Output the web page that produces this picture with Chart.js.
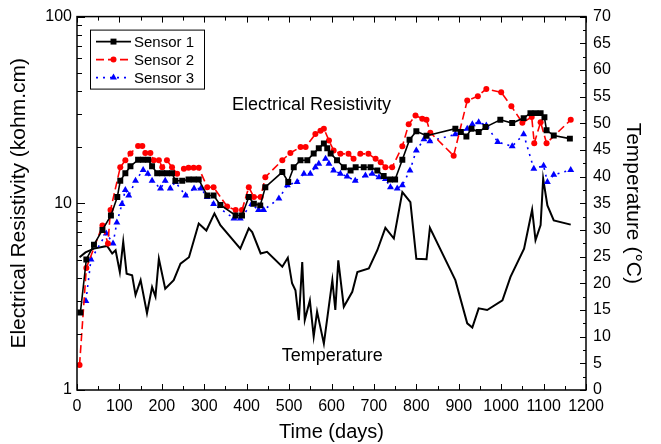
<!DOCTYPE html>
<html>
<head>
<meta charset="utf-8">
<script src="https://cdn.jsdelivr.net/npm/chart.js@4.4.1/dist/chart.umd.min.js"></script>
<style>
  html, body { margin: 0; padding: 0; background: #fff; }
</style>
</head>
<body>
<canvas id="grafico" width="661" height="444"></canvas>
<script>
// Sensor 1 (black squares)
const s1Dias = [8,22,40,60,80,95,102,114,126,144,156,168,177,189,201,212,224,232,248,263,275,287,307,322,338,374,389,405,417,432,444,484,498,511,527,543,558,570,582,590,598,613,629,645,657,676,692,708,723,738,750,767,784,800,824,892,905,918,930,947,963,998,1026,1053,1069,1081,1093,1102,1107,1124,1162];
const s1Valores = [2.6,5.0,6.0,7.2,8.6,10.8,13.2,14.5,15.8,17.1,17.1,17.1,15.8,14.5,14.5,14.5,14.5,13.2,13.2,13.4,13.4,13.4,11.0,11.0,9.8,8.6,8.6,10.8,9.95,9.75,12.2,14.7,13.0,15.6,17.0,17.0,18.5,19.7,20.9,19.7,18.5,17.0,15.6,15.0,15.6,15.6,15.6,15.0,14.0,13.4,13.4,17.1,21.9,24.3,23.0,25.1,24.1,22.8,25.1,24.1,25.6,28.0,26.9,28.6,30.4,30.4,30.4,28.9,24.6,23.1,22.2];

// Sensor 2 (red circles)
const s2Dias = [6,22,60,73,79,102,114,126,144,154,161,173,181,193,201,212,224,236,252,263,275,287,307,322,354,374,389,405,417,433,444,484,503,527,539,562,574,582,594,605,621,640,652,668,687,704,716,727,743,767,782,798,814,824,833,888,920,945,965,1000,1024,1050,1072,1078,1093,1107,1164];
const s2Valores = [1.36,4.5,7.6,6.1,9.2,15.6,17.0,18.5,20.3,20.3,18.6,18.6,17.0,17.0,15.6,17.0,15.6,14.4,15.3,15.5,15.5,15.5,12.2,12.2,9.6,9.2,9.2,12.2,10.8,10.8,13.8,17.0,18.6,20.0,20.0,23.5,24.5,25.1,21.7,19.2,18.4,18.4,17.3,18.4,18.4,17.3,16.6,15.6,15.6,20.2,26.5,29.5,28.4,28.0,23.9,18.0,35.5,37.5,41.0,39.3,33.1,27.0,29.0,21.0,27.2,21.0,28.0];

// Sensor 3 (blue triangles)
const s3Dias = [21,33,69,85,94,106,114,122,138,156,167,177,197,208,220,232,256,276,292,307,322,370,385,412,428,440,476,496,519,535,550,562,570,586,594,605,621,637,656,680,696,712,727,739,755,767,785,800,818,832,892,920,932,947,965,992,1026,1053,1077,1100,1109,1124,1164];
const s3Valores = [3.0,5.0,6.9,6.1,7.9,9.9,11.8,11.0,13.2,15.1,14.4,13.2,12.0,13.2,12.0,13.0,11.0,12.0,12.0,10.8,9.9,8.3,8.3,9.9,9.2,9.2,10.6,12.5,13.0,14.4,14.4,15.6,16.3,17.3,16.3,15.0,14.4,13.9,13.2,14.1,14.4,13.8,13.5,12.2,12.0,12.5,15.0,19.2,22.0,21.5,23.4,25.1,26.5,27.2,26.1,21.3,20.2,23.4,15.3,15.9,13.0,14.2,15.1];

// Temperature, right axis (°C)
const tDias = [6,20,40,71,83,91,101,109,117,130,138,150,165,177,185,193,208,228,244,264,287,305,324,338,385,405,413,433,448,484,497,507,515,523,531,537,549,558,566,582,602,609,616,629,649,661,688,708,727,747,767,786,800,824,832,892,920,932,947,967,1003,1022,1054,1073,1081,1093,1099,1109,1124,1164];
const tValores = [24.9,25.8,26.5,27.0,25.6,26.2,22.1,27.8,21.8,21.5,17.8,20.6,14.4,19.3,17.5,24.6,19.0,20.6,23.7,24.9,31.2,29.9,33.1,30.9,26.5,30.3,29.6,25.6,25.9,23.1,24.8,20.0,18.7,13.1,24.0,13.1,16.8,10.0,14.7,8.7,20.6,15.0,24.3,15.6,18.4,22.1,22.8,26.2,30.4,28.4,37.1,35.2,24.6,24.5,30.4,20.6,12.5,11.7,15.3,15.0,16.8,21.2,26.5,33.8,28.1,30.9,39.6,34.6,31.8,31.0];

const ticksResistividad = [1, 10, 100];
const nombresSensores = ['Sensor 1', 'Sensor 2', 'Sensor 3'];

const fuente = 'Liberation Sans, Arial, sans-serif';

function puntos(dias, valores) {
    return dias.map((d, i) => ({ x: d, y: valores[i] }));
}

const estilos = [
    { color: '#000000', dash: [], pointStyle: 'rect', radius: 4.2, width: 1.6 },
    { color: '#ff0000', dash: [8, 4], pointStyle: 'circle', radius: 3, width: 1.6 },
    { color: '#0000ff', dash: [2, 5], pointStyle: 'triangle', radius: 4, width: 1.6 }
];

function dibujarMarcador(ctx, estilo, x, y) {
    ctx.fillStyle = estilo.color;
    ctx.beginPath();
    if (estilo.pointStyle === 'rect') {
        const s = estilo.radius * Math.SQRT1_2;
        ctx.rect(x - s, y - s, 2 * s, 2 * s);
    } else if (estilo.pointStyle === 'circle') {
        ctx.arc(x, y, estilo.radius, 0, Math.PI * 2);
    } else {
        const r = estilo.radius;
        ctx.moveTo(x, y - r);
        ctx.lineTo(x + r * 0.866, y + r * 0.5);
        ctx.lineTo(x - r * 0.866, y + r * 0.5);
        ctx.closePath();
    }
    ctx.fill();
}

// frame, inward ticks, legend box and the two labels inside the plot
const marco = {
    id: 'marco',
    afterDraw(chart) {
        const ctx = chart.ctx;
        const a = chart.chartArea;
        const x = chart.scales.x, y = chart.scales.y, y2 = chart.scales.y2;
        ctx.save();
        ctx.strokeStyle = '#000';
        ctx.lineWidth = 1.5;
        ctx.setLineDash([]);
        ctx.strokeRect(a.left, a.top, a.right - a.left, a.bottom - a.top);

        ctx.lineWidth = 1;
        ctx.beginPath();
        for (let d = 0; d <= 1200; d += 50) {
            const px = Math.round(x.getPixelForValue(d)) + 0.5;
            const len = d % 100 === 0 ? 6 : 4;
            ctx.moveTo(px, a.bottom); ctx.lineTo(px, a.bottom - len);
            ctx.moveTo(px, a.top); ctx.lineTo(px, a.top + len);
        }
        for (let dec = 1; dec < 100; dec *= 10) {
            for (let k = 1; k <= 10; k++) {
                const py = Math.round(y.getPixelForValue(dec * k)) + 0.5;
                const len = (k === 1 || k === 10) ? 8 : 5;
                ctx.moveTo(a.left, py); ctx.lineTo(a.left + len, py);
            }
        }
        for (let t = 0; t <= 70; t += 2.5) {
            const py = Math.round(y2.getPixelForValue(t)) + 0.5;
            const len = t % 5 === 0 ? 6 : 3;
            ctx.moveTo(a.right, py); ctx.lineTo(a.right - len, py);
        }
        ctx.stroke();

        // legend
        const lx = a.left + 13, ly = a.top + 13;
        ctx.lineWidth = 1;
        ctx.strokeRect(lx + 0.5, ly + 0.5, 114, 59);
        ctx.font = '15px ' + fuente;
        ctx.textBaseline = 'middle';
        ctx.textAlign = 'left';
        nombresSensores.forEach((nombre, i) => {
            const e = estilos[i];
            const ry = ly + 12 + i * 18;
            ctx.strokeStyle = e.color;
            ctx.lineWidth = e.width;
            ctx.setLineDash(e.dash);
            ctx.beginPath();
            ctx.moveTo(lx + 6, ry);
            ctx.lineTo(lx + 41, ry);
            ctx.stroke();
            ctx.setLineDash([]);
            dibujarMarcador(ctx, e, lx + 23.5, ry);
            ctx.fillStyle = '#000';
            ctx.fillText(nombre, lx + 44, ry + 1);
        });

        ctx.font = '18px ' + fuente;
        ctx.textAlign = 'center';
        ctx.fillStyle = '#000';
        ctx.fillText('Electrical Resistivity', x.getPixelForValue(553), y.getPixelForValue(33.4));
        ctx.fillText('Temperature', x.getPixelForValue(602), y2.getPixelForValue(6.4));
        ctx.restore();
    }
};

Chart.defaults.color = '#000';
Chart.defaults.font.family = fuente;

const datasets = nombresSensores.map((nombre, i) => ({
    label: nombre,
    data: puntos([s1Dias, s2Dias, s3Dias][i], [s1Valores, s2Valores, s3Valores][i]),
    yAxisID: 'y',
    borderColor: estilos[i].color,
    backgroundColor: estilos[i].color,
    borderWidth: estilos[i].width,
    borderDash: estilos[i].dash,
    pointStyle: estilos[i].pointStyle,
    pointRadius: estilos[i].radius,
    pointBorderWidth: 0,
    pointBackgroundColor: estilos[i].color,
    tension: 0
}));

datasets.push({
    label: 'Temperature',
    data: puntos(tDias, tValores),
    yAxisID: 'y2',
    borderColor: '#000',
    borderWidth: 2,
    pointRadius: 0,
    tension: 0
});

new Chart(document.getElementById('grafico'), {
    type: 'line',
    data: { datasets },
    options: {
        responsive: false,
        animation: false,
        devicePixelRatio: 1,
        layout: { padding: { top: 16, left: 0, right: 0, bottom: 0 } },
        plugins: { legend: { display: false }, tooltip: { enabled: false } },
        scales: {
            x: {
                type: 'linear',
                position: 'bottom',
                min: 0,
                max: 1200,
                grid: { display: false, drawTicks: false },
                border: { display: false },
                ticks: { stepSize: 100, autoSkip: false, maxRotation: 0, padding: 7, font: { size: 16 }, callback: v => String(v) },
                title: { display: true, text: 'Time (days)', font: { size: 20 }, padding: { top: 0, bottom: 0 } },
                afterFit(axis) { axis.height = 54; }
            },
            y: {
                type: 'logarithmic',
                position: 'left',
                min: 1,
                max: 100,
                grid: { display: false, drawTicks: false },
                border: { display: false },
                afterBuildTicks(axis) { axis.ticks = ticksResistividad.map(v => ({ value: v })); },
                ticks: { padding: 5, font: { size: 16 }, callback: v => String(v) },
                title: { display: true, text: 'Electrical Resistivity (kohm.cm)', font: { size: 21 }, padding: { top: 7, bottom: 0 } },
                afterFit(axis) { axis.width = 77; }
            },
            y2: {
                type: 'linear',
                position: 'right',
                min: 0,
                max: 70,
                grid: { display: false, drawTicks: false },
                border: { display: false },
                ticks: { stepSize: 5, padding: 7, font: { size: 16 } },
                title: { display: true, text: 'Temperature (°C)', font: { size: 21 }, padding: { top: 16, bottom: 0 } },
                afterFit(axis) { axis.width = 75; }
            }
        }
    },
    plugins: [marco]
});
</script>
</body>
</html>
